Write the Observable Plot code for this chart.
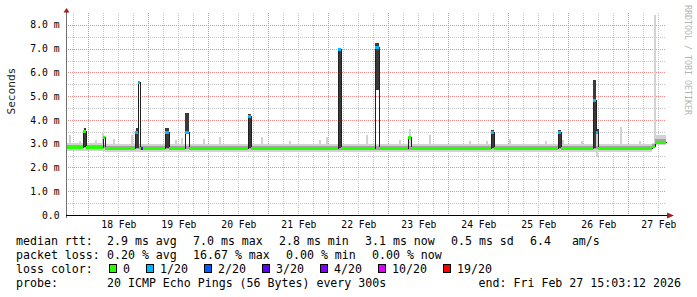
<!DOCTYPE html>
<html><head><meta charset="utf-8">
<script src="https://cdn.jsdelivr.net/npm/d3@7"></script>
<script src="https://cdn.jsdelivr.net/npm/@observablehq/plot@0.6"></script>
<style>
body{margin:0;background:#fff;}
#chart svg{display:block;}
#legend{position:relative;width:697px;height:63px;font-family:"DejaVu Sans Mono",monospace;font-size:11.6px;color:#000;}
#legend span{position:absolute;white-space:pre;line-height:14px;}
#legend i{position:absolute;box-sizing:border-box;width:8px;height:9px;border:1px solid #000;}
</style>
</head><body><div id="chart"></div><div id="legend"></div>
<script>
// ---------- time frame ----------
const START = Date.UTC(2026, 1, 17, 15, 3, 12);
const SPAN_HOURS = 240;
const HOUR = 3600e3;
const STEP_HOURS = 0.4;

// ---------- baseline (hours from start) ----------
const baseStart   = [0,    15.6, 62,   92,   140,  176,  234.4, 235.6];
const baseMedian  = [2.88, 2.82, 2.82, 2.81, 2.82, 2.82, 2.92, 3.09];
const baseMidLow  = [2.82, 2.76, 2.76, 2.75, 2.76, 2.76, 2.86, 3.00];
const baseMidHigh = [2.96, 2.91, 2.91, 2.90, 2.91, 2.91, 2.99, 3.20];
const baseLow     = [2.70, 2.66, 2.65, 2.64, 2.64, 2.66, 2.78, 2.95];
const baseHigh    = [3.04, 2.99, 2.98, 2.98, 2.99, 2.99, 3.05, 3.36];

// ---------- spikes ----------
const spikeStart    = [7.0,  15.0, 27.8, 29.0, 30.0, 39.6, 47.6, 72.8, 108.8, 123.6, 136.8, 170.0, 196.8, 210.8, 212.0];
const spikeEnd      = [8.0,  15.8, 29.0, 29.8, 30.8, 41.2, 49.2, 74.0, 110.0, 125.2, 138.0, 171.2, 198.0, 212.0, 213.0];
const spikeMedian   = [3.55, 3.30, 3.50, 5.60, 2.80, 3.50, 3.50, 4.15, 6.97,  7.05,  3.30,  3.50,  3.50,  4.85,  3.50];
const spikeLoss     = [0,    0,    1,    1,    3,    1,    1,    1,    1,     1,     0,     1,     1,     1,     1];
const spikeDarkLow  = [2.88, null, 2.80, null, null, 2.80, 3.52, 2.80, 2.80,  5.25,  null,  2.80,  2.80,  2.80,  3.45];
const spikeDarkHigh = [3.68, null, 3.66, null, null, 3.66, 4.30, 4.27, 7.02,  7.25,  null,  3.56,  3.56,  5.66,  3.62];

// ---------- narrow light smoke blips ----------
const blipHour = [1.6, 5.6, 12.0, 14.6, 19.2, 26.4, 44.0, 46.4, 55.2, 61.6, 78.4, 89.6, 101.6, 104.4, 120.4, 133.6, 137.4, 145.6, 161.6, 168.4, 177.6, 192.0, 198.8, 206.4, 212.4, 222.0, 229.6, 235.6];
const blipLow  = [2.90, 2.90, 2.90, 2.90, 2.85, 2.85, 2.85, 2.85, 2.85, 2.85, 2.85, 2.85, 2.85, 2.85, 2.85, 2.85, 2.85, 2.85, 2.85, 2.85, 2.85, 2.85, 2.85, 2.85, 2.45, 2.85, 2.85, 2.90];
const blipHigh = [3.35, 3.10, 3.15, 3.45, 3.20, 3.38, 3.15, 3.25, 3.20, 3.30, 3.30, 3.10, 3.15, 3.30, 3.35, 3.15, 3.62, 3.35, 3.10, 3.10, 3.20, 3.10, 3.15, 3.10, 3.62, 3.70, 3.10, 8.40];

// ---------- loss colours ----------
const lossLevels = [0, 1, 2, 3, 4, 10, 19];
const lossLabels = ["0", "1/20", "2/20", "3/20", "4/20", "10/20", "19/20"];
const lossColors = ["#26ff00", "#00b8ff", "#0059ff", "#5e00ff", "#7e00ff", "#dd00ff", "#ff0000"];

// ---------- ticks ----------
const yMajor = [0, 1, 2, 3, 4, 5, 6, 7, 8];
const yTickLabels = ["0.0", "1.0 m", "2.0 m", "3.0 m", "4.0 m", "5.0 m", "6.0 m", "7.0 m", "8.0 m"];
const dayLabels = ["18 Feb", "19 Feb", "20 Feb", "21 Feb", "22 Feb", "23 Feb", "24 Feb", "25 Feb", "26 Feb", "27 Feb"];

// ---------- legend text ----------
const rttHead = "median rtt:";
const rttStats = ["2.9 ms avg", "7.0 ms max", "2.8 ms min", "3.1 ms now", "0.5 ms sd", "6.4   am/s"];
const lossHead = "packet loss:";
const lossStats = ["0.20 % avg", "16.67 % max", "0.00 % min", "0.00 % now"];
const colorHead = "loss color:";
const probeHead = "probe:";
const probeText = "20 ICMP Echo Pings (56 Bytes) every 300s";
const endText = "end: Fri Feb 27 15:03:12 2026";

// ---------- build tables ----------
const toDate = h => new Date(START + h * HOUR);
const END = toDate(SPAN_HOURS);
const lossColor = l => { let c = lossColors[0]; lossLevels.forEach((v, i) => { if (l >= v) c = lossColors[i]; }); return c; };

const cols = [];
const nCols = Math.round(SPAN_HOURS / STEP_HOURS);
for (let i = 0; i < nCols; i++) {
  const h = i * STEP_HOURS, m = h + STEP_HOURS / 2;
  let b = 0; baseStart.forEach((s, k) => { if (s <= m) b = k; });
  const row = {t: toDate(h), t2: toDate(h + STEP_HOURS), median: baseMedian[b], loss: 0,
    lo: baseLow[b], hi: baseHigh[b], midLo: baseMidLow[b], midHi: baseMidHigh[b]};
  spikeStart.forEach((s, k) => { if (s <= m && m < spikeEnd[k]) { row.median = spikeMedian[k]; row.loss = spikeLoss[k]; } });
  cols.push(row);
}
const bandRows = cols.concat([{...cols[cols.length - 1], t: END}]);
const spikes = spikeStart.map((s, k) => ({t1: toDate(s), t2: toDate(spikeEnd[k]), lo: spikeDarkLow[k], hi: spikeDarkHigh[k]}))
  .filter(d => d.lo != null);
const blips = blipHour.map((h, k) => ({t1: toDate(h - 0.4), t2: toDate(h + 0.4), lo: blipLow[k], hi: blipHigh[k]}));

const midnights = d3.utcDay.range(new Date(START), END);
const noonTicks = midnights.map(d => new Date(+d + 12 * HOUR)).filter(d => d < END).slice(0, dayLabels.length);
const sixHours = d3.utcHour.every(6).range(new Date(START), END).filter(d => d.getUTCHours() !== 0);
const yMinor = yMajor.slice(0, -1).map(v => v + 0.5);

const chart = Plot.plot({
  width: 697, height: 234,
  marginLeft: 66, marginRight: 31, marginTop: 13, marginBottom: 19,
  style: {background: "#fff", fontFamily: "DejaVu Sans Mono", fontSize: "9.7px", color: "#000"},
  x: {type: "utc", domain: [new Date(START), END]},
  y: {domain: [0, 8.5], label: null},
  marks: [
    Plot.ruleX(sixHours, {stroke: "#c4c4c4", strokeDasharray: "1,1", shapeRendering: "crispEdges"}),
    Plot.ruleY(yMinor, {stroke: "#c4c4c4", strokeDasharray: "1,1", shapeRendering: "crispEdges"}),
    Plot.ruleX(midnights, {stroke: "#ee8c8c", strokeDasharray: "1,1", shapeRendering: "crispEdges"}),
    Plot.ruleY(yMajor.slice(1), {stroke: "#ee8c8c", strokeDasharray: "1,1", shapeRendering: "crispEdges"}),
    Plot.areaY(bandRows, {x: "t", y1: "lo", y2: "hi", curve: "step-after", fill: "#d2d2d2", shapeRendering: "crispEdges"}),
    Plot.rect(blips, {x1: "t1", x2: "t2", y1: "lo", y2: "hi", fill: "#d2d2d2", shapeRendering: "crispEdges"}),
    Plot.areaY(bandRows, {x: "t", y1: "midLo", y2: "midHi", curve: "step-after", fill: "#a4a4a4", shapeRendering: "crispEdges"}),
    Plot.rect(spikes, {x1: "t1", x2: "t2", y1: "lo", y2: "hi", fill: "#3a3a3a", shapeRendering: "crispEdges"}),
    Plot.line(bandRows, {x: "t", y: "median", curve: "step-after", stroke: "#202020", strokeWidth: 1, shapeRendering: "crispEdges"}),
    Plot.ruleY(cols, {y: "median", x1: "t", x2: "t2", stroke: d => lossColor(d.loss), strokeWidth: 3, shapeRendering: "crispEdges"}),
    Plot.axisY({ticks: yMajor, tickFormat: d => yTickLabels[yMajor.indexOf(d)], tickSize: 0, tickPadding: 7, label: null}),
    Plot.axisX({ticks: noonTicks, tickFormat: d => dayLabels[noonTicks.findIndex(n => +n === +d)], tickSize: 0, tickPadding: 6, label: null}),
    Plot.text(["Seconds"], {text: d => d, frameAnchor: "left", rotate: -90, dx: -55, fontSize: 11.1, fill: "#222"})
  ]
});
document.getElementById("chart").appendChild(chart);

// axis lines, arrows and watermark drawn from the scale ranges
const xs = chart.scale("x"), ys = chart.scale("y");
const [x0, x1] = xs.range, yb = ys.range[0], yt = ys.range[1];
const svg = d3.select(chart);
svg.append("line").attr("x1", x0 + 0.5).attr("x2", x0 + 0.5).attr("y1", yb + 3).attr("y2", yt - 1).attr("stroke", "#707070");
svg.append("line").attr("x1", x0).attr("x2", x1 + 2).attr("y1", yb + 0.5).attr("y2", yb + 0.5).attr("stroke", "#000");
svg.append("path").attr("d", `M${x0 - 2.5},${yt - 0.5}L${x0 + 3.5},${yt - 0.5}L${x0 + 0.5},${yt - 5}Z`).attr("fill", "#a02020");
svg.append("path").attr("d", `M${x1 + 1},${yb - 2.5}L${x1 + 1},${yb + 3.5}L${x1 + 8},${yb + 0.5}Z`).attr("fill", "#a02020");
svg.append("text").attr("transform", `translate(${x1 + 19},5) rotate(90)`).attr("text-anchor", "start")
  .attr("font-size", 8.3).attr("fill", "#b4b4b4")
  .attr("font-family", "DejaVu Sans Mono").text("RRDTOOL / TOBI OETIKER");

// ---------- legend ----------
const CW = 7, GAP = 16, L0 = 16, V0 = 107;
const leg = document.getElementById("legend");
function span(x, top, txt) { const s = document.createElement("span"); s.style.left = x + "px"; s.style.top = top + "px"; s.textContent = txt; leg.appendChild(s); return s; }
function statRow(top, head, items) {
  span(L0, top, head);
  let x = V0;
  items.forEach(t => { span(x, top, t); x += t.length * CW + GAP; });
}
statRow(0, rttHead, rttStats);
statRow(14, lossHead, lossStats);
span(L0, 28, colorHead);
let bx = V0 + 2;
lossLabels.forEach((lab, i) => {
  const b = document.createElement("i"); b.style.left = bx + "px"; b.style.top = "30px"; b.style.background = lossColors[i]; leg.appendChild(b);
  span(bx + 14, 28, lab);
  bx += 14 + lab.length * CW + GAP;
});
span(L0, 42, probeHead);
span(V0, 42, probeText);
const e = span(0, 42, endText); e.style.left = ""; e.style.right = (697 - 681) + "px";
</script></body></html>
